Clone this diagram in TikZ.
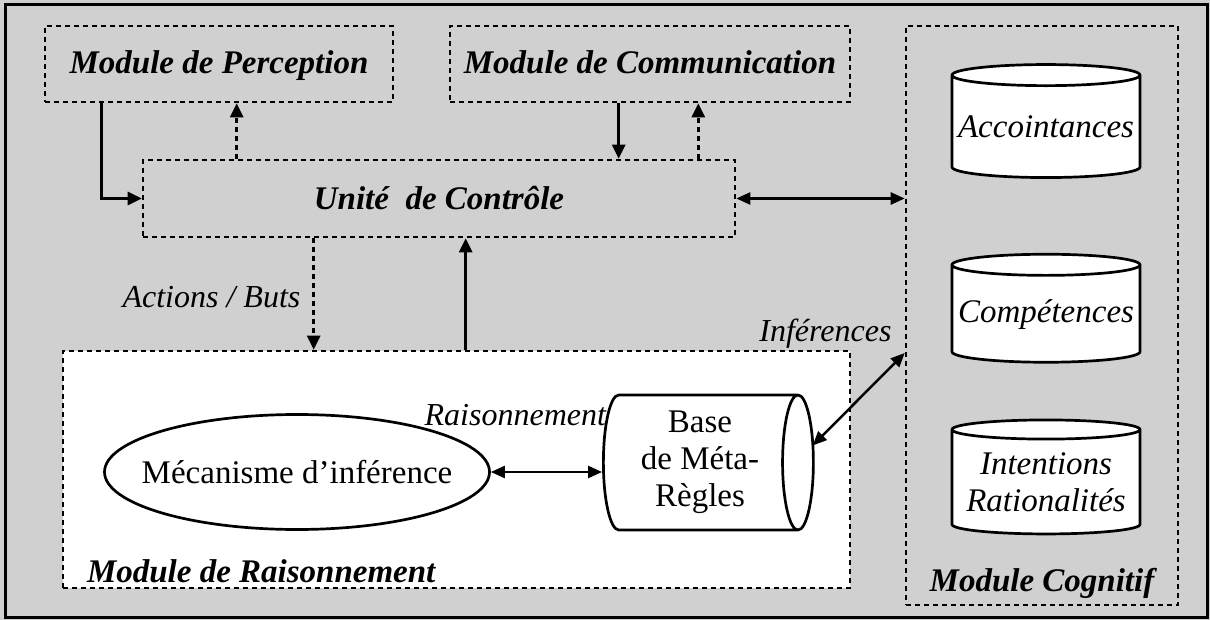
\documentclass[tikz,border=0pt]{standalone}
\usepackage{fontspec}
\setmainfont{Liberation Serif}
\usepackage{xcolor}
\definecolor{stipple}{RGB}{208,208,208}
\usetikzlibrary{positioning,shapes.geometric,arrows.meta}

\begin{document}
\begin{tikzpicture}[x=1pt, y=-1pt,
  font=\fontsize{33}{37}\selectfont,
  modbox/.style={draw, line width=2.6pt, dash pattern=on 5pt off 4pt, inner sep=0pt,
    font=\fontsize{33}{37}\selectfont\bfseries\itshape},
  base/.style={cylinder, draw, line width=2.7pt, fill=white, align=center, inner sep=0pt},
  lbl/.style={inner sep=2pt, font=\fontsize{32}{36}\selectfont\itshape},
  arrow/.style={-{Triangle[length=14pt, width=13pt]}, line width=2.7pt},
  dotarrow/.style={arrow, dash pattern=on 5pt off 4pt},
  biarrow/.style={{Triangle[length=14pt, width=12pt]}-{Triangle[length=14pt, width=12pt]}, line width=2.5pt}]
  \fill[stipple] (0,0) rectangle (1210,620);
  \draw[line width=3pt] (5,5) rectangle (1207,617);
  \node[modbox, minimum width=348pt, minimum height=76pt, text depth=4pt] (perc) at (219,64) {Module de Perception};
  \node[modbox, minimum width=400pt, minimum height=76pt, text depth=4pt] (comm) at (650,64) {Module de Communication};
  \node[modbox, minimum width=592pt, minimum height=77pt] (ctrl) at (439,198.5) {Unité \ de Contrôle};
  \node[modbox, fill=white, minimum width=787pt, minimum height=237pt] (rais) at (456.5,469.5) {};
  \node[modbox, minimum width=272pt, minimum height=579pt] (cog) at (1042,315.5) {};
  \node[modbox, draw=none, anchor=west] (raisTitle) at ([xshift=24pt, yshift=18pt]rais.south west) {Module de Raisonnement};
  \node[modbox, draw=none] (cogTitle) at ([yshift=23pt]cog.south) {Module Cognitif};
  % raisonnement
  \node[ellipse, draw, line width=2.7pt, minimum width=385pt, minimum height=115pt, inner xsep=-20pt, inner ysep=0pt] (meca) at (297,472) {Mécanisme d’inférence};
  \node[base, aspect=0.3, minimum width=135pt, minimum height=210pt] (metabase) at (700,462.5) {Base\\de Méta-\\Règles};
  % cognitif
  \node[base, shape border rotate=90, aspect=0.12, minimum width=188pt, minimum height=113pt, font=\fontsize{33}{37}\selectfont\itshape] (acc) at (1046,127) {Accointances};
  \node[base, shape border rotate=90, aspect=0.12, minimum width=188pt, minimum height=108pt, font=\fontsize{33}{37}\selectfont\itshape, below=74pt of acc] (comp) {Compétences};
  \node[base, shape border rotate=90, aspect=0.12, minimum width=188pt, minimum height=114pt, font=\fontsize{33}{37}\selectfont\itshape, below=55pt of comp] (inten) {Intentions\\Rationalités};
  \draw[arrow] ([xshift=58pt]perc.south west) |- (ctrl.west);
  \draw[dotarrow] ([xshift=95pt]ctrl.north west) -- ([xshift=95pt]ctrl.north west |- perc.south);
  \draw[arrow] ([xshift=170pt]comm.south west) -- ([xshift=170pt]comm.south west |- ctrl.north);
  \draw[dotarrow] ([xshift=-38pt]ctrl.north east) -- ([xshift=-38pt]ctrl.north east |- comm.south);
  \draw[biarrow] (ctrl.east) -- (ctrl.east -| cog.west);
  \draw[dotarrow] ([xshift=172pt]ctrl.south west) -- node[lbl, left=10pt, yshift=-3pt] {Actions / Buts} ([xshift=172pt]ctrl.south west |- rais.north);
  \draw[arrow] ([xshift=404pt]rais.north west) -- ([xshift=404pt]rais.north west |- ctrl.south);
  \draw[biarrow] ([yshift=-37.5pt]cog.west) -- node[lbl, pos=0, anchor=south east, xshift=-10pt, yshift=1pt] {Inférences} ([xshift=-2pt, yshift=17pt]metabase.east);
  \draw[biarrow] (meca.east) -- node[lbl, pos=0.22, above=43pt] {Raisonnement} (meca.east -| metabase.west);
\end{tikzpicture}
\end{document}
